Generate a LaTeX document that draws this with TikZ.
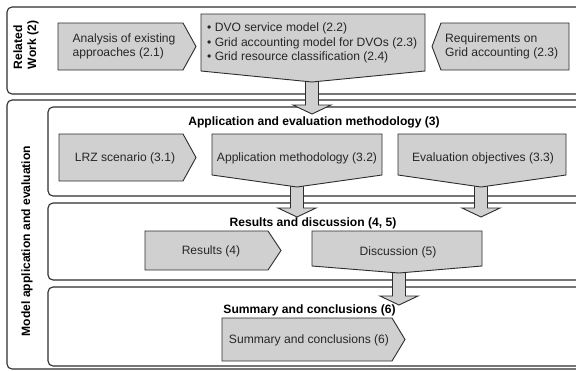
\documentclass[tikz,border=0pt]{standalone}
\usepackage{fontspec}
\setmainfont{Liberation Sans}
\usetikzlibrary{calc}
\definecolor{boxfill}{RGB}{208,208,208}
\definecolor{edge}{RGB}{45,45,45}
\newcommand\blockdown[2]{%
  \draw[blk] let \p1=(#1), \p2=(#2) in
    (\x1-6.5pt,\y1+3pt) -- (\x1-6.5pt,\y2+9pt) -- (\x1-19pt,\y2+9pt) -- (\x1,\y2)
    -- (\x1+19pt,\y2+9pt) -- (\x1+6.5pt,\y2+9pt) -- (\x1+6.5pt,\y1+3pt) -- cycle;}
\begin{document}
\begin{tikzpicture}[x=1pt,y=-1pt,
  frame/.style={draw=edge, line width=1.1pt, rounded corners=5pt},
  shapebox/.style={draw=edge, fill=boxfill, line width=0.9pt},
  blk/.style={draw=edge, fill=boxfill, line width=0.9pt},
  lbl/.style={font=\fontsize{12.1}{14.2}\selectfont, text=black!85, inner sep=0pt},
  ttl/.style={font=\bfseries\fontsize{12.1}{14.2}\selectfont, inner sep=0pt}
]
\useasboundingbox (0,0) rectangle (576,370);
\clip (0,0) rectangle (576,370);
\fill[white] (0,0) rectangle (576,370);

% frames
\draw[frame] (7,7) rectangle (620,94);
\draw[frame] (7,100) rectangle (620,369);
\draw[frame] (48,107) rectangle (620,196);
\draw[frame] (48,203) rectangle (620,280);
\draw[frame] (48,287) rectangle (620,366);

% side labels
\node[ttl, rotate=90, align=left] (rw) at (26,45) {Related\\Work (2)};
\node[ttl, rotate=90] (mae) at (27,241) {Model application and evaluation};

% titles
\node[ttl] (t3) at (314,122) {Application and evaluation methodology (3)};
\node[ttl] (t45) at (313,223) {Results and discussion (4, 5)};
\node[ttl] (t6) at (309.5,310) {Summary and conclusions (6)};

% connector coordinates
\coordinate (dvotip) at (312,82);  \coordinate (a0end) at (312,114);
\coordinate (apptip) at (297,187); \coordinate (a1end) at (297,217);
\coordinate (evaltip) at (481,187); \coordinate (a2end) at (481,217);
\coordinate (disctip) at (399,273); \coordinate (a3end) at (399,305);

% block arrows
\blockdown{dvotip}{a0end}
\blockdown{apptip}{a1end}
\blockdown{evaltip}{a2end}
\blockdown{disctip}{a3end}

% row 1
\draw[shapebox] (58,23) -- (183,23) -- (196,46.5) -- (183,70) -- (58,70) -- cycle;
\node[lbl, align=left] (ana) at (124,46) {Analysis of existing\\approaches (2.1)};
\draw[shapebox] (201,14) -- (425,14) -- (425,71) -- (dvotip) -- (201,71) -- cycle;
\node[lbl, align=left, anchor=west] (dvo) at (207,43) {\textbullet\ DVO service model (2.2)\\\textbullet\ Grid accounting model for DVOs (2.3)\\\textbullet\ Grid resource classification (2.4)};
\draw[shapebox] (432,46.5) -- (441,23) -- (569,23) -- (569,70) -- (441,70) -- cycle;
\node[lbl, align=left, anchor=west] (req) at (445,46.5) {Requirements on\\Grid accounting (2.3)};

% row 2
\draw[shapebox] (59,134) -- (183,134) -- (196,157.5) -- (183,181) -- (59,181) -- cycle;
\node[lbl] (lrz) at (125,158) {LRZ scenario (3.1)};
\draw[shapebox] (212,134) -- (382,134) -- (382,175) -- (apptip) -- (212,175) -- cycle;
\node[lbl] (app) at (297,158) {Application methodology (3.2)};
\draw[shapebox] (398,134) -- (566,134) -- (566,175) -- (evaltip) -- (398,175) -- cycle;
\node[lbl] (eval) at (483,158) {Evaluation objectives (3.3)};

% row 3
\draw[shapebox] (145,231) -- (268,231) -- (281,250.5) -- (268,270) -- (145,270) -- cycle;
\node[lbl] (res) at (211,251) {Results (4)};
\draw[shapebox] (312,231) -- (482,231) -- (482,266) -- (disctip) -- (312,266) -- cycle;
\node[lbl] (disc) at (398,252) {Discussion (5)};

% row 4
\draw[shapebox] (222,318) -- (392,318) -- (405,339.5) -- (392,361) -- (222,361) -- cycle;
\node[lbl] (sum) at (309,340) {Summary and conclusions (6)};
\end{tikzpicture}
\end{document}
